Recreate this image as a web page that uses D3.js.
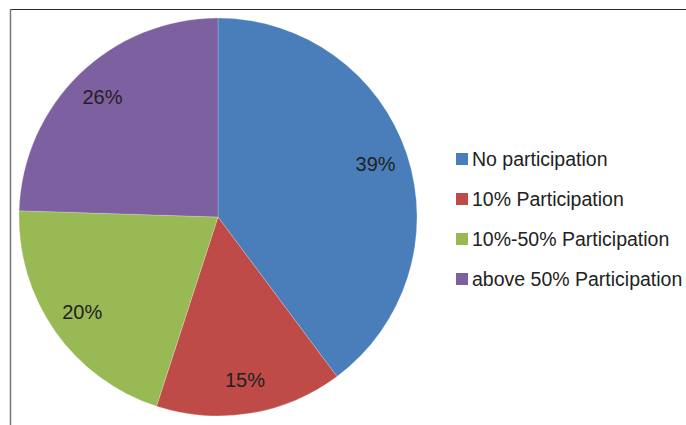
<!DOCTYPE html>
<html>
<head>
<meta charset="utf-8">
<script src="https://cdn.jsdelivr.net/npm/d3@7/dist/d3.min.js"></script>
<style>
  html, body { margin: 0; padding: 0; background: #fff; }
  svg { display: block; }
  text { font-family: "Liberation Sans", Arial, sans-serif; fill: #222; }
</style>
</head>
<body>
<svg id="chart" width="686" height="425"></svg>
<script>
const categories = ["No participation", "10% Participation", "10%-50% Participation", "above 50% Participation"];
const shares = [39.8, 15.2, 20.5, 24.5];
const pctLabels = ["39%", "15%", "20%", "26%"];
const colors = ["#4A7EBB", "#BE4B48", "#98B954", "#7D60A0"];

const svg = d3.select("#chart");
const W = 686, H = 425;

// frame lines
svg.append("line").attr("x1", 10).attr("y1", 9.5).attr("x2", W).attr("y2", 9.5)
  .attr("stroke", "#2a2a2a").attr("stroke-width", 1.2);
svg.append("line").attr("x1", 10.5).attr("y1", 9).attr("x2", 10.5).attr("y2", H)
  .attr("stroke", "#777").attr("stroke-width", 1.5);

const cx = 218, cy = 217, R = 199;
const g = svg.append("g").attr("transform", `translate(${cx},${cy})`);

const pie = d3.pie().sort(null).value(d => d)(shares);
const arc = d3.arc().innerRadius(0).outerRadius(R);
const labelArc = d3.arc().innerRadius(166).outerRadius(166);

g.selectAll("path.slice").data(pie).enter().append("path")
  .attr("class", "slice")
  .attr("d", arc)
  .attr("fill", (d, i) => colors[i])
  .attr("stroke", "rgba(255,255,255,0.35)")
  .attr("stroke-width", 0.6);

g.selectAll("text.pct").data(pie).enter().append("text")
  .attr("class", "pct")
  .attr("transform", d => `translate(${labelArc.centroid(d)})`)
  .attr("text-anchor", "middle")
  .attr("dy", "0.33em")
  .style("font-size", "20px")
  .text((d, i) => pctLabels[i]);

// legend
const legY = d3.scalePoint().domain(categories).range([159, 279]);
const leg = svg.append("g");
categories.forEach((c, i) => {
  const y = legY(c);
  leg.append("rect").attr("x", 456).attr("y", y - 6).attr("width", 12).attr("height", 12)
    .attr("fill", colors[i]);
  leg.append("text").attr("x", 472).attr("y", y + 7)
    .style("font-size", "19.5px")
    .text(c);
});
</script>
</body>
</html>
